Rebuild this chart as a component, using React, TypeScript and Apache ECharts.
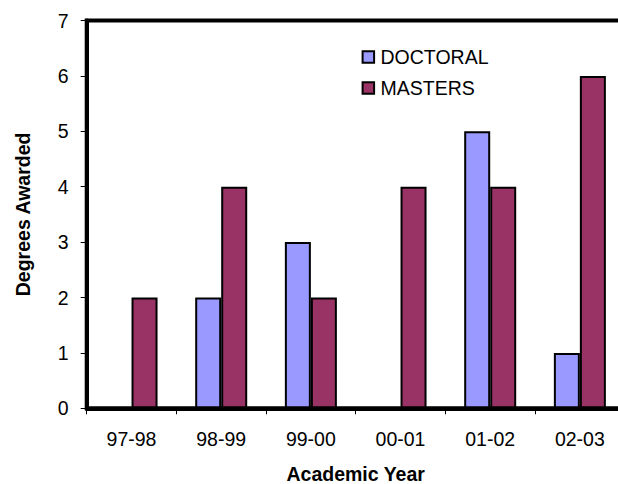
import React, { useEffect, useRef } from "react";
import * as echarts from "echarts";

const categories = ["97-98", "98-99", "99-00", "00-01", "01-02", "02-03"];
const doctoral = [0, 2, 3, 0, 5, 1];
const masters = [2, 4, 2, 4, 4, 6];
const yTicks = { min: 0, max: 7, interval: 1 };

const FONT = "'Liberation Sans', Arial, sans-serif";

export default function App() {
  const ref = useRef<HTMLDivElement>(null);
  useEffect(() => {
    if (!ref.current) return;
    const chart = echarts.init(ref.current, undefined, { renderer: "svg" });
    chart.setOption({
      animation: false,
      backgroundColor: "#ffffff",
      textStyle: { fontFamily: FONT, color: "#000" },
      grid: {
        left: 86.7,
        top: 20.5,
        width: 538,
        height: 387.8,
        outerBoundsMode: "none",
        containLabel: false,
        show: true,
        borderColor: "#000",
        borderWidth: 4,
        backgroundColor: "transparent",
      },
      legend: {
        orient: "vertical",
        left: 356.6,
        top: 42,
        itemWidth: 11.5,
        itemHeight: 11.5,
        itemGap: 11,
        icon: "rect",
        textStyle: { fontFamily: FONT, fontSize: 19.5, color: "#000", padding: [0, 0, 0, 1.4] },
        data: ["DOCTORAL", "MASTERS"],
      },
      xAxis: {
        type: "category",
        data: categories,
        name: "Academic Year",
        nameLocation: "middle",
        nameGap: 56,
        nameTextStyle: { fontFamily: FONT, fontSize: 19.5, fontWeight: "bold", color: "#000" },
        axisLine: { show: true, lineStyle: { color: "#000", width: 4 } },
        axisTick: { show: true, length: 6, lineStyle: { color: "#000", width: 1 } },
        axisLabel: { fontFamily: FONT, fontSize: 19.5, color: "#000", margin: 21 },
        splitLine: { show: false },
      },
      yAxis: {
        type: "value",
        min: yTicks.min,
        max: yTicks.max,
        interval: yTicks.interval,
        name: "Degrees Awarded",
        nameLocation: "middle",
        nameRotate: 90,
        nameGap: 54,
        nameTextStyle: { fontFamily: FONT, fontSize: 19.5, fontWeight: "bold", color: "#000" },
        axisLine: { show: true, lineStyle: { color: "#000", width: 4 } },
        axisTick: { show: true, length: 6, lineStyle: { color: "#000", width: 1 } },
        axisLabel: { fontFamily: FONT, fontSize: 19.5, color: "#000", margin: 18 },
        splitLine: { show: false },
      },
      series: [
        {
          name: "DOCTORAL",
          type: "bar",
          data: doctoral,
          barGap: "0%",
          barCategoryGap: "42%",
          itemStyle: { color: "#9999FF", borderColor: "#000", borderWidth: 2 },
        },
        {
          name: "MASTERS",
          type: "bar",
          data: masters,
          barGap: "0%",
          barCategoryGap: "42%",
          itemStyle: { color: "#993366", borderColor: "#000", borderWidth: 2 },
        },
      ],
    });
    return () => chart.dispose();
  }, []);
  return (
    <div
      ref={ref}
      style={{ position: "fixed", left: 0, top: 0, width: 618, height: 484, background: "#fff" }}
    />
  );
}
